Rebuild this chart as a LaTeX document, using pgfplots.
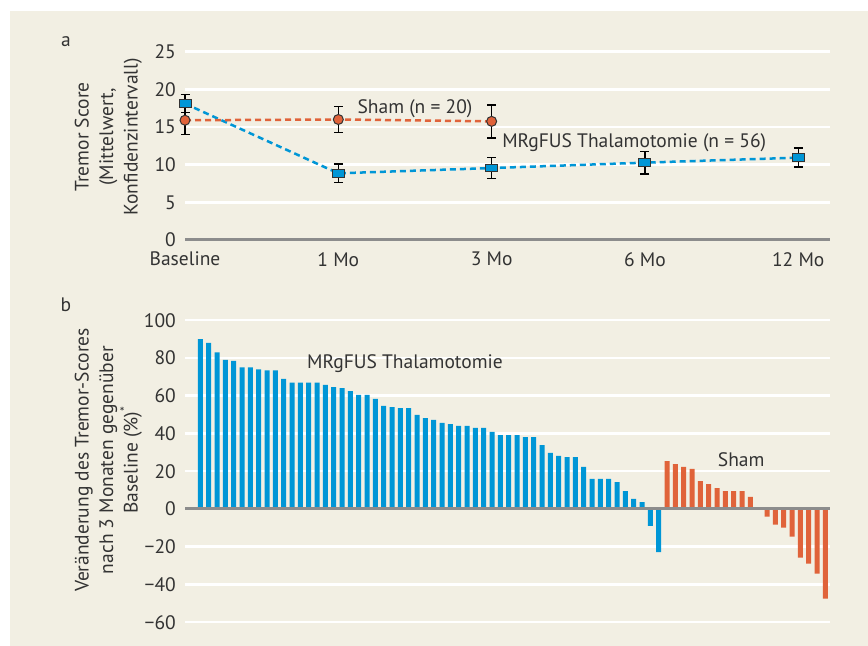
\documentclass[border=0pt]{standalone}
\usepackage{fontspec}
\setmainfont{PT Sans}
\usepackage{pgfplots}
\pgfplotsset{compat=1.18}
\definecolor{mblue}{RGB}{0,150,214}
\definecolor{morange}{RGB}{224,99,58}
\definecolor{bg}{RGB}{242,239,227}
\definecolor{txt}{RGB}{51,51,51}
\definecolor{zline}{RGB}{140,140,140}
\newcommand\fs{\fontsize{19.5bp}{23bp}\selectfont}
\newcommand\fl{\fontsize{19.5bp}{24.5bp}\selectfont}
\begin{document}
\begin{tikzpicture}[x=1bp,y=1bp]
\fill[white] (0,0) rectangle (868,646);
\fill[bg] (10,0) rectangle (868,635);
\node[text=txt, font=\fs] at (66,604) {a};
\node[text=txt, font=\fs] at (66,341) {b};

\begin{axis}[
  at={(185bp,406bp)}, anchor=south west, scale only axis,
  width=645bp, height=188.3bp,
  xmin=0, xmax=4.207, ymin=0, ymax=25,
  axis line style={draw=none}, major tick length=0,
  xtick={0,...,4}, xticklabels={Baseline,1 Mo,3 Mo,6 Mo,12 Mo},
  ytick={0,5,10,15,20,25}, yticklabels={0,5,10,15,20,25},
  ymajorgrids, grid style={white, line width=2.5bp},
  tick label style={font=\fs, text=txt},
  yticklabel style={inner sep=0pt, xshift=-9bp},
  xticklabel style={inner sep=0pt, yshift=-12bp},
  clip=false,
  ylabel={Tremor Score\\(Mittelwert,\\Konfidenzintervall)},
  ylabel style={font=\fl, align=center, text=txt, at={(axis description cs:-0.119,0.547)}, anchor=center},
]
\draw[zline, line width=3bp] (axis cs:0,0) -- (axis cs:4.207,0);
\addplot[mblue, line width=2.5bp, dash pattern=on 6bp off 4bp,
  mark=square*, mark size=3.75bp,
  mark options={solid, xscale=1.6, fill=mblue, draw=txt, line width=1bp},
  error bars/.cd, y dir=both, y explicit,
  error bar style={solid, black, line width=1.5bp},
  error mark options={solid, black, line width=1.5bp, mark size=4.5bp, rotate=90}]
  coordinates {
  (0,18.1) +- (0,1.2)
  (1,8.85) +- (0,1.25)
  (2,9.55) +- (0,1.4)
  (3,10.27) +- (0,1.5)
  (4,10.93) +- (0,1.25)
  };
\addplot[morange, line width=2.5bp, dash pattern=on 6bp off 4bp,
  mark=*, mark size=5bp,
  mark options={solid, fill=morange, draw=txt, line width=1bp},
  error bars/.cd, y dir=both, y explicit,
  error bar style={solid, black, line width=1.5bp},
  error mark options={solid, black, line width=1.5bp, mark size=4.5bp, rotate=90}]
  coordinates {
  (0,15.9) +- (0,1.9)
  (1,16.0) +- (0,1.75)
  (2,15.75) +- (0,2.2)
  };
\node[text=txt, font=\fs] at (axis cs:1.50,17.4) {Sham (n = 20)};
\node[text=txt, font=\fs] at (axis cs:2.93,12.95) {MRgFUS Thalamotomie (n = 56)};
\end{axis}

\begin{axis}[
  at={(185bp,23.75bp)}, anchor=south west, scale only axis,
  width=645bp, height=302bp,
  xmin=-1.84, xmax=75.56, ymin=-60, ymax=100,
  axis line style={draw=none}, major tick length=0,
  xtick=\empty,
  ytick={-60,-40,-20,0,20,40,60,80,100},
  yticklabels={−60,−40,−20,0,20,40,60,80,100},
  ymajorgrids, grid style={white, line width=2.5bp},
  tick label style={font=\fs, text=txt},
  yticklabel style={inner sep=0pt, xshift=-9bp},
  clip=false,
  ylabel={Veränderung des Tremor-Scores\\nach 3 Monaten gegenüber\\Baseline (\%)\textsuperscript{*}},
  ylabel style={font=\fl, align=center, text=txt, at={(axis description cs:-0.119,0.537)}, anchor=center},
]
\addplot[ybar, bar width=5bp, bar shift=0pt, fill=mblue, draw=none] coordinates {
(0,90) (1,88) (2,83) (3,79) (4,78.5) (5,75) (6,75) (7,74) (8,73.5) (9,73.5)
(10,69) (11,67) (12,67) (13,67) (14,67) (15,65.7) (16,64.6) (17,64) (18,62.5) (19,60.4)
(20,60.4) (21,58.3) (22,54.6) (23,54) (24,53.5) (25,53.5) (26,49.8) (27,48.2) (28,47.2) (29,45.6)
(30,45) (31,44) (32,44) (33,43) (34,43) (35,40.8) (36,39.2) (37,39.2) (38,39.2) (39,38.1)
(40,38.1) (41,33.9) (42,29.7) (43,28.1) (44,27.5) (45,27.5) (46,22.3) (47,15.9) (48,15.9) (49,15.9)
(50,14.3) (51,9.5) (52,5.3) (53,3.7) (54,-9) (55,-22.8)
};
\addplot[ybar, bar width=5bp, bar shift=0pt, fill=morange, draw=none] coordinates {
(56,25.4) (57,23.8) (58,22.3) (59,21.2) (60,14.8) (61,13.2) (62,11.1) (63,9.5) (64,9.5) (65,9.5)
(66,6.4) (67,0) (68,-4.1) (69,-8.3) (70,-9.9) (71,-14.7) (72,-25.8) (73,-29.0) (74,-34.3) (75,-47.5)
};
\draw[zline, line width=3bp] (axis cs:-1.84,0) -- (axis cs:75.56,0);
\node[text=txt, font=\fs] at (axis cs:24.56,76.8) {MRgFUS Thalamotomie};
\node[text=txt, font=\fs] at (axis cs:64.9,26) {Sham};
\end{axis}
\end{tikzpicture}
\end{document}
